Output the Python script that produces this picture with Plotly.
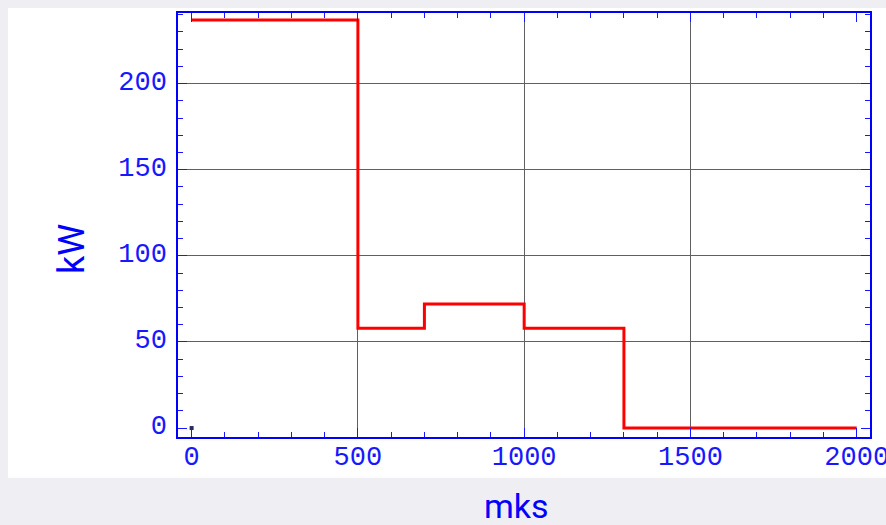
import plotly.graph_objects as go

# Data
time_mks = [0, 500, 700, 1000, 1300, 2000]
power_kw = [237, 58, 72, 58, 0, 0]
origin_x = [0]
origin_y = [0]
x_ticks = [0, 500, 1000, 1500, 2000]
y_ticks = [0, 50, 100, 150, 200]
x_grid = [500, 1000, 1500]
y_grid = [50, 100, 150, 200]

BLUE = "#1818ff"
XR = [-41, 2040]
YR = [-5.2, 241]

fig = go.Figure()
fig.add_trace(go.Scatter(x=time_mks, y=power_kw, mode="lines",
                         line=dict(color="#ff0000", width=3, shape="hv"),
                         showlegend=False, hoverinfo="x+y"))
fig.add_trace(go.Scatter(x=origin_x, y=origin_y, mode="markers",
                         marker=dict(color="#2a2a60", size=4, symbol="square"),
                         xaxis="x2", yaxis="y2", showlegend=False))

tickfont = dict(family="Liberation Mono", size=27, color=BLUE)

fig.update_layout(
    width=886, height=525,
    margin=dict(l=178, r=16, t=13, b=88),
    paper_bgcolor="#eeeef3",
    plot_bgcolor="white",
    xaxis=dict(range=XR, tickvals=x_ticks, ticktext=[str(v) for v in x_ticks],
               showgrid=False, zeroline=False, automargin=False,
               showline=True, linecolor="blue", linewidth=1.5, mirror="allticks",
               ticks="inside", ticklen=9, tickcolor=BLUE, tickwidth=1,
               minor=dict(dtick=100, ticks="inside", ticklen=5, tickcolor=BLUE, showgrid=False),
               tickfont=tickfont, ticklabelstandoff=-6, ticklabeloverflow="allow"),
    yaxis=dict(range=YR, tickvals=y_ticks, ticktext=[str(v) for v in y_ticks],
               showgrid=False, zeroline=False, automargin=False,
               showline=True, linecolor="blue", linewidth=1.5, mirror="allticks",
               ticks="inside", ticklen=9, tickcolor=BLUE, tickwidth=1,
               minor=dict(dtick=10, ticks="inside", ticklen=5, tickcolor=BLUE, showgrid=False),
               tickfont=tickfont, ticklabelstandoff=4, ticklabelshift=-3,
               ticklabeloverflow="allow"),
    xaxis2=dict(range=XR, overlaying="x", tickvals=x_grid, showgrid=True, automargin=False,
                gridcolor="#606060", gridwidth=1, showticklabels=False,
                ticks="", showline=False, zeroline=False),
    yaxis2=dict(range=YR, overlaying="y", tickvals=y_grid, showgrid=True, automargin=False,
                gridcolor="#606060", gridwidth=1, showticklabels=False,
                ticks="", showline=False, zeroline=False),
    shapes=[dict(type="rect", xref="paper", yref="paper",
                 x0=(8 - 178) / 692, x1=(886 - 178) / 692,
                 y0=(437 - 477.7) / 424, y1=(437 - 8) / 424,
                 fillcolor="white", line=dict(width=0), layer="below")],
    annotations=[
        dict(text="kW", xref="paper", yref="paper", x=(72 - 178) / 692, y=(437 - 249) / 424,
             showarrow=False, textangle=-90, xanchor="center", yanchor="middle",
             font=dict(family="Roboto", size=36, color="blue")),
        dict(text="mks", xref="paper", yref="paper", x=(516 - 178) / 692, y=(437 - 506) / 424,
             showarrow=False, xanchor="center", yanchor="middle",
             font=dict(family="Roboto", size=34, color="blue")),
    ],
)

fig.write_html("out.html")
